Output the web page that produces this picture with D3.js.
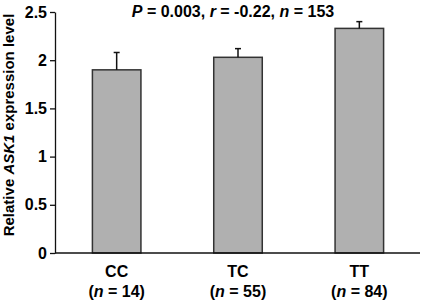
<!DOCTYPE html>
<html>
<head>
<meta charset="utf-8">
<script src="https://cdn.jsdelivr.net/npm/d3@7"></script>
<style>
  body { margin: 0; background: #fff; }
  text { font-family: "Liberation Sans", Arial, sans-serif; font-weight: bold; }
</style>
</head>
<body>
<svg id="canvas" width="422" height="302"></svg>
<script>
// chart data
let genotypes = ["CC", "TC", "TT"];
let counts = [14, 55, 84];
let means = [1.90, 2.03, 2.33];
let errors = [0.18, 0.09, 0.07];
let yTicks = [0, 0.5, 1, 1.5, 2, 2.5];

let canvas = d3.select("#canvas");

let y = d3.scaleLinear().domain([0, 2.5]).range([253, 12]);
let x = d3.scaleBand().domain(genotypes).range([56, 420])
    .paddingInner(0.6).paddingOuter(0.3);

let rows = genotypes.map((g, i) => ({ g: g, n: counts[i], v: means[i], e: errors[i] }));

// bars
canvas.selectAll("rect.bar")
    .data(rows)
    .join("rect")
    .attr("class", "bar")
    .attr("x", d => x(d.g))
    .attr("y", d => y(d.v))
    .attr("width", x.bandwidth())
    .attr("height", d => y(0) - y(d.v))
    .attr("fill", "#b0b0b0")
    .attr("stroke", "#333")
    .attr("stroke-width", 1.5);

// error bars (upper only)
let eb = canvas.selectAll("g.err")
    .data(rows)
    .join("g")
    .attr("class", "err")
    .attr("stroke", "#111")
    .attr("stroke-width", 1.5);
eb.append("line")
    .attr("x1", d => x(d.g) + x.bandwidth() / 2)
    .attr("x2", d => x(d.g) + x.bandwidth() / 2)
    .attr("y1", d => y(d.v))
    .attr("y2", d => y(d.v + d.e));
eb.append("line")
    .attr("x1", d => x(d.g) + x.bandwidth() / 2 - 3)
    .attr("x2", d => x(d.g) + x.bandwidth() / 2 + 3)
    .attr("y1", d => y(d.v + d.e))
    .attr("y2", d => y(d.v + d.e));

// y axis
let yAxis = canvas.append("g")
    .attr("transform", "translate(55,0)")
    .call(d3.axisLeft(y).tickValues(yTicks).tickFormat(d => String(d)).tickSize(5).tickSizeOuter(0));
yAxis.selectAll("path, line").attr("stroke", "#111").attr("stroke-width", 1.3);
yAxis.selectAll("text")
    .attr("fill", "#000")
    .attr("x", -8)
    .style("font-size", "16px")
    .style("font-family", "'Liberation Sans', Arial, sans-serif")
    .style("font-weight", "bold");

// x axis line
canvas.append("line")
    .attr("x1", 55).attr("x2", 420)
    .attr("y1", y(0)).attr("y2", y(0))
    .attr("stroke", "#111").attr("stroke-width", 1.5);

// x labels
let xl = canvas.selectAll("g.xl")
    .data(rows)
    .join("g")
    .attr("class", "xl")
    .attr("transform", d => "translate(" + (x(d.g) + x.bandwidth() / 2) + ",0)");
xl.append("text")
    .attr("y", 277)
    .attr("text-anchor", "middle")
    .style("font-size", "16px")
    .text(d => d.g);
let nl = xl.append("text")
    .attr("y", 297)
    .attr("text-anchor", "middle")
    .style("font-size", "16px");
nl.append("tspan").text("(");
nl.append("tspan").style("font-style", "italic").text("n");
nl.append("tspan").text(d => " = " + d.n + ")");

// title with statistics
let title = canvas.append("text")
    .attr("x", 233)
    .attr("y", 17)
    .attr("text-anchor", "middle")
    .style("font-size", "16px");
title.append("tspan").style("font-style", "italic").text("P");
title.append("tspan").text(" = 0.003, ");
title.append("tspan").style("font-style", "italic").text("r");
title.append("tspan").text(" = -0.22, ");
title.append("tspan").style("font-style", "italic").text("n");
title.append("tspan").text(" = 153");

// y axis label
let yl = canvas.append("text")
    .attr("transform", "translate(14,125) rotate(-90)")
    .attr("text-anchor", "middle")
    .style("font-size", "15px");
yl.append("tspan").text("Relative ");
yl.append("tspan").style("font-style", "italic").text("ASK1");
yl.append("tspan").text(" expression level");
</script>
</body>
</html>
